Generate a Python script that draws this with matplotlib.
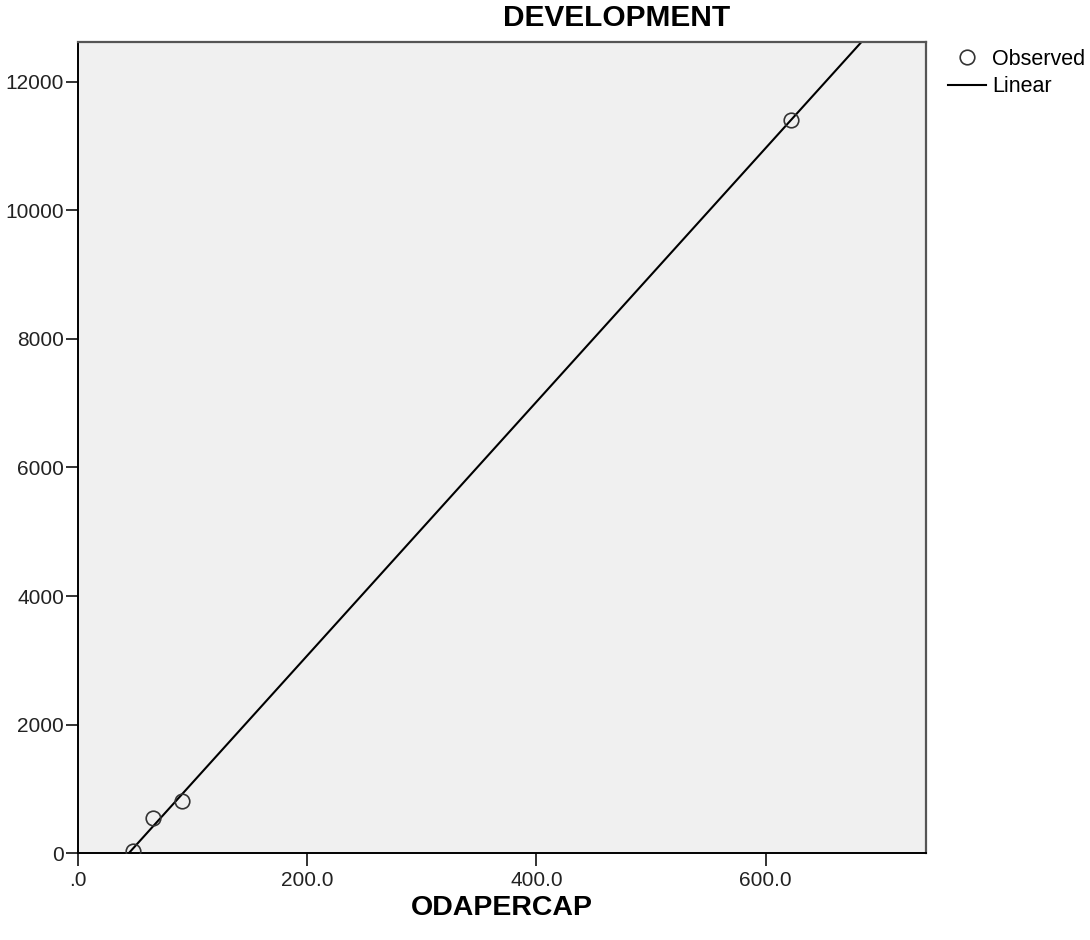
import numpy as np
import matplotlib
matplotlib.use('Agg')
import matplotlib.pyplot as plt
from matplotlib.ticker import FuncFormatter

plt.rcParams['font.family'] = ['Liberation Sans', 'DejaVu Sans']

# observed cases
odapercap = [48.2, 65.1, 90.8, 621.9]
development = [35, 554, 818, 11404]

x_ticks = [0, 200, 400, 600]
y_ticks = [0, 2000, 4000, 6000, 8000, 10000, 12000]
x_max = 739.5
y_max = 12617

# linear fit (SPSS curve estimation, "Linear")
b1, b0 = np.polyfit(odapercap, development, 1)

fig = plt.figure(figsize=(10.9, 9.4), dpi=100)
ax = fig.add_axes([78/1090, 1 - 853.3/940, (925.6-78)/1090, (853.3-42)/940])
ax.set_facecolor('#f0f0f0')

xs = np.array([0, x_max])
ax.plot(xs, b0 + b1*xs, color='black', lw=1.5, label='Linear', zorder=2)
ax.plot(odapercap, development, 'o', mfc='none', mec='#333333', mew=1.2,
        ms=10.5, label='Observed', zorder=3)

ax.set_xlim(0, x_max)
ax.set_ylim(0, y_max)
ax.set_xticks(x_ticks)
ax.set_yticks(y_ticks)
ax.xaxis.set_major_formatter(FuncFormatter(lambda v, p: ('%.1f' % v).lstrip('0') if v == 0 else '%.1f' % v))
ax.tick_params(axis='both', labelsize=15, colors='#222222', width=1.3)
ax.tick_params(axis='x', length=9, pad=4)
ax.tick_params(axis='y', length=9, pad=1)

for s in ['left', 'bottom']:
    ax.spines[s].set_color('black')
    ax.spines[s].set_linewidth(1.4)
for s in ['top', 'right']:
    ax.spines[s].set_color('#555555')
    ax.spines[s].set_linewidth(1.6)

ax.set_xlabel('ODAPERCAP', fontsize=20.5, fontweight='bold', labelpad=3)
fig.text(617/1090, 1 - 18/940, 'DEVELOPMENT', fontsize=21.5, fontweight='bold',
         ha='center', va='center')

h, l = ax.get_legend_handles_labels()
leg = fig.legend([h[1], h[0]], [l[1], l[0]], loc='upper left',
                 bbox_to_anchor=(948/1090, 1 - 49/940), frameon=False,
                 fontsize=15.5, handlelength=1.75, handletextpad=0.3,
                 labelspacing=0.3, borderaxespad=0, borderpad=0)

fig.savefig('out.png', dpi=100)
